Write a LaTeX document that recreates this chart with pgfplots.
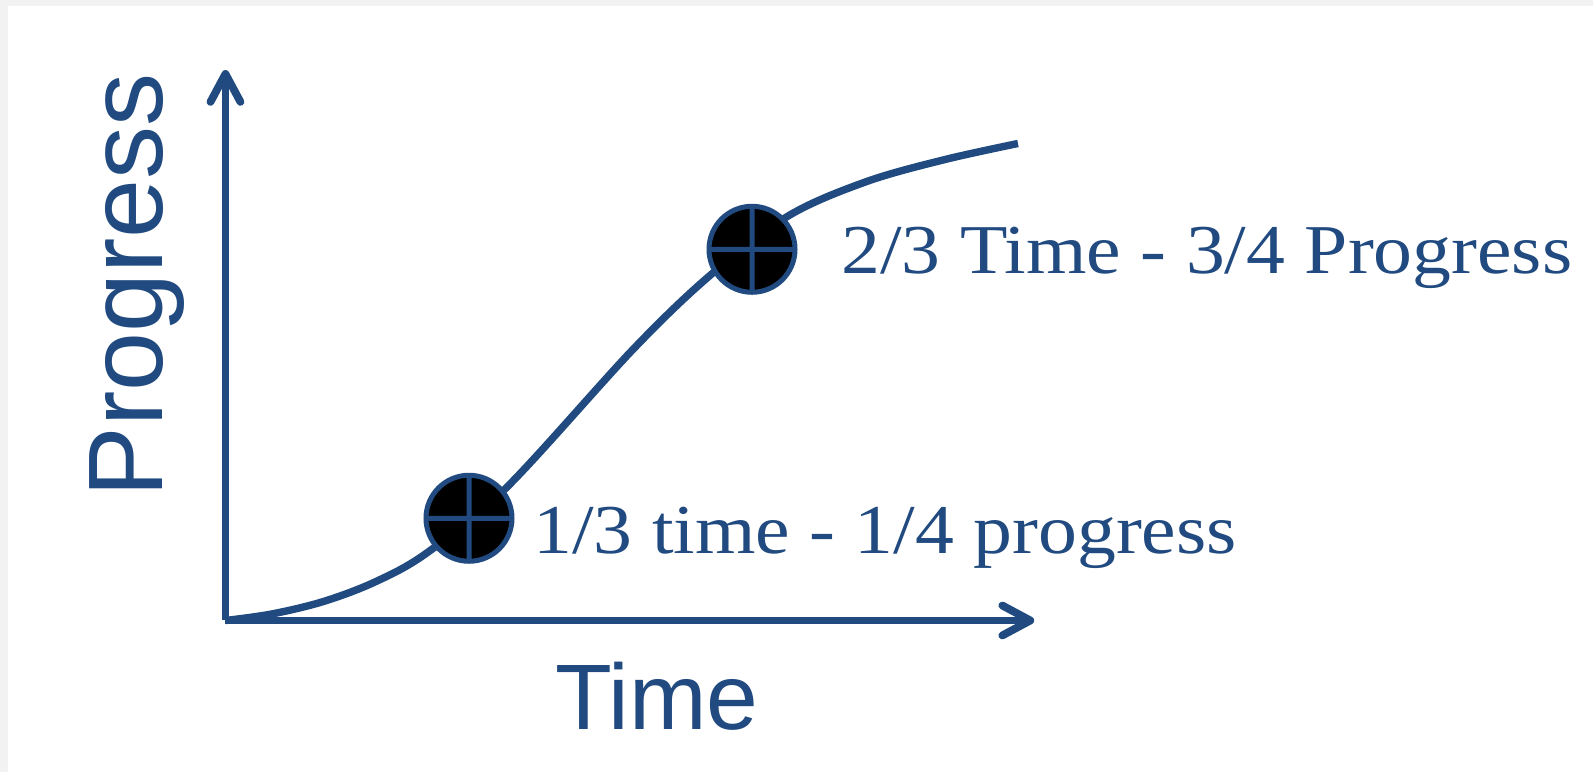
\documentclass[border=0pt]{standalone}
\usepackage{pgfplots}
\pgfplotsset{compat=1.18}
\usepackage{fontspec}
\setmainfont{Liberation Serif}
\newfontfamily\georgiaf[FakeStretch=1.11]{Liberation Serif}
\newfontfamily\arialf{Liberation Sans}
\usetikzlibrary{arrows.meta}
\definecolor{dblue}{RGB}{33,75,128}
\definecolor{bggray}{RGB}{242,242,242}
\begin{document}
\begin{tikzpicture}
\begin{axis}[hide axis, x=396.25bp, y=238.5bp, xmin=0, xmax=1.02, ymin=0, ymax=1.15,
  clip=false, anchor=origin, at={(0,0)}]
% background
\fill[bggray] (axis cs:-0.2845,-0.3176) rectangle (axis cs:1.7256,1.3008);
\fill[white] (axis cs:-0.2744,-0.3176) rectangle (axis cs:1.7256,1.2883);
% axes
\draw[dblue, line width=3.9bp, -{Straight Barb[length=14bp,width=15bp,round]}] (axis cs:0,0) -- (axis cs:1.0205,0);
\draw[dblue, line width=3.9bp, -{Straight Barb[length=14bp,width=15bp,round]}] (axis cs:0,0) -- (axis cs:0,1.154);
% curve
\addplot[dblue, line width=3.7bp, smooth, tension=0.55] coordinates {
(0,0) (0.0583,0.0136) (0.1234,0.0397) (0.1886,0.0807) (0.2538,0.1413)
(0.3548,0.2790) (0.5144,0.5686) (0.6122,0.7245)
(0.7100,0.8480) (0.8078,0.9195) (0.9055,0.9654) (1,1)};
% markers
\addplot[only marks, mark=oplus*, mark size=21.5bp,
  mark options={draw=dblue, fill=black, line width=2.5bp}] coordinates {(0.3073,0.2143) (0.6644,0.7782)};
% labels
\node[anchor=base west, text=dblue, inner sep=0pt, font=\georgiaf\fontsize{35bp}{42bp}\selectfont] at (axis cs:0.388,0.141) {1/3 time - 1/4 progress};
\node[anchor=base west, text=dblue, inner sep=0pt, font=\georgiaf\fontsize{35bp}{42bp}\selectfont] at (axis cs:0.7767,0.728) {2/3 Time - 3/4 Progress};
\node[anchor=base, text=dblue, inner sep=0pt, font=\arialf\fontsize{46.5bp}{56bp}\selectfont] at (axis cs:0.5445,-0.229) {Time};
\node[anchor=base, rotate=90, text=dblue, inner sep=0pt, font=\arialf\fontsize{53bp}{64bp}\selectfont] at (axis cs:-0.0794,0.703) {Progress};
\end{axis}
\end{tikzpicture}
\end{document}
